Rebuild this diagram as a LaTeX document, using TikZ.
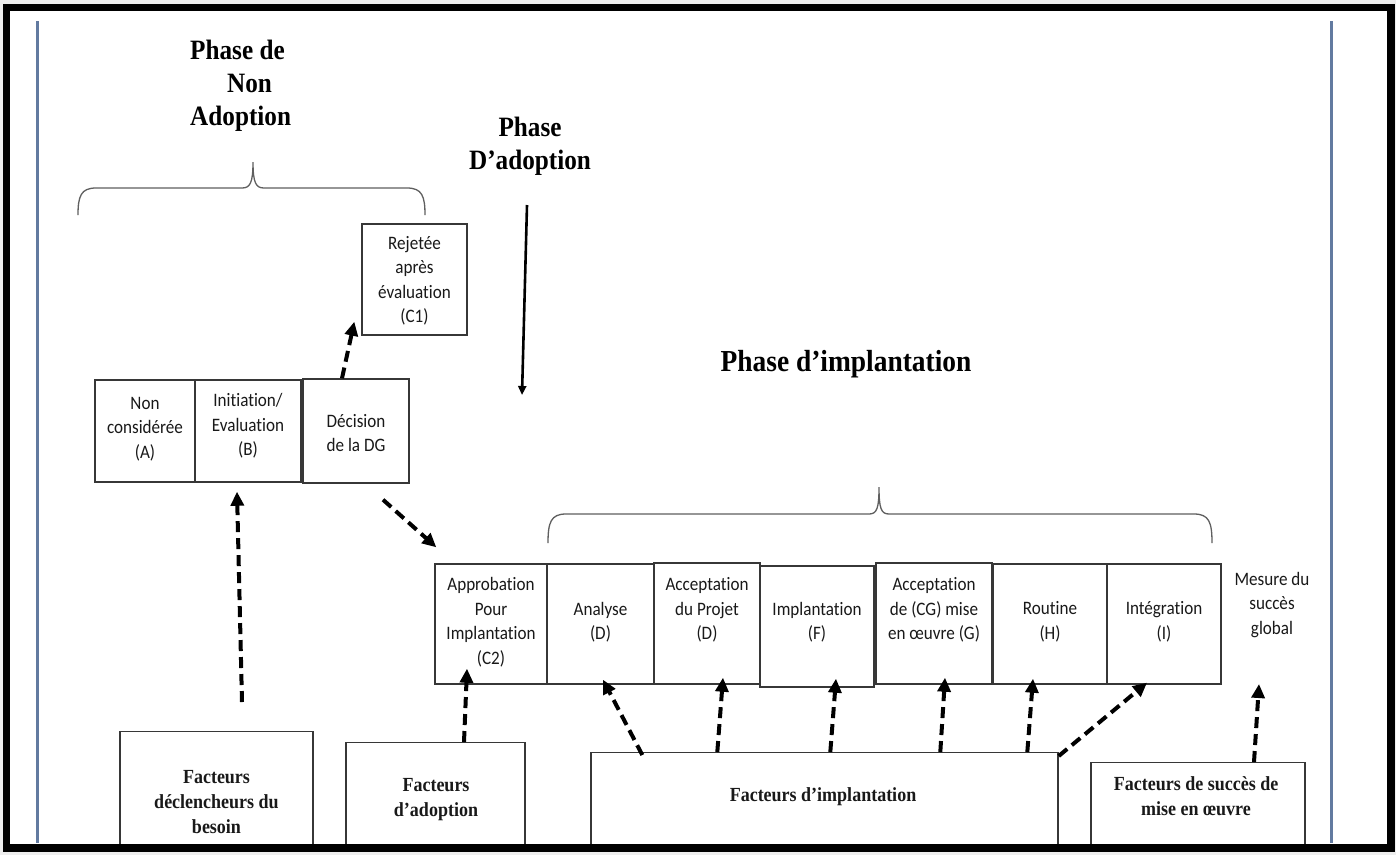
\documentclass[tikz,border=0pt]{standalone}
\usepackage{fontspec}
\setmainfont{Liberation Serif}[FakeStretch=0.9]
\newfontfamily\calfont{Carlito}[FakeStretch=0.9, Ligatures={NoCommon}]
\usetikzlibrary{arrows.meta}
\definecolor{bggray}{RGB}{238,238,238}
\definecolor{bluegray}{RGB}{98,122,160}
\definecolor{boxgray}{RGB}{55,55,55}
\definecolor{bracegray}{RGB}{95,95,95}
\definecolor{txtcol}{RGB}{25,25,25}
\tikzset{
  box/.style={draw=boxgray, line width=1.4pt, rectangle, inner sep=0pt},
  txt/.style={font=\calfont\fontsize{19}{24.5}\selectfont, align=center, inner sep=0pt, text=txtcol},
  btxt/.style={font=\bfseries\fontsize{20}{25}\selectfont, align=center, inner sep=0pt, text=txtcol},
  ttl/.style={font=\bfseries\fontsize{28}{33}\selectfont, inner sep=0pt, text=black},
  dar/.style={line width=4pt, dash pattern=on 11pt off 6pt, -{Triangle[length=14pt,width=13pt]}},
  sar/.style={line width=2.6pt, -{Triangle[length=9pt,width=8pt]}},
  bracepath/.style={draw=bracegray, line width=1.3pt}
}
\begin{document}
\begin{tikzpicture}[x=1pt,y=-1pt]
\useasboundingbox (0,0) rectangle (1396,855);
% frame
\fill[bggray] (0,0) rectangle (1396,855);
\fill[black] (3,4) rectangle (1395,852);
\fill[white] (10,11) rectangle (1387,844);
\draw[bluegray, line width=3pt] (37,21) -- (37,843);
\draw[bluegray, line width=3pt] (1331,21) -- (1331,843);

% titles
\node[ttl, anchor=west, align=left] (tnon) at (190,86) {Phase de\\\hspace*{37pt}Non\\Adoption};
\node[ttl, align=center] (tadop) at (530,146) {Phase\\D’adoption};
\node[ttl, font=\bfseries\fontsize{30.5}{34}\selectfont] (timp) at (846,364) {Phase d’implantation};

% braces
\draw[bracepath] (78,215) .. controls (78,196) and (81,188) .. (96,188) -- (242,188)
  .. controls (250,188) and (253,183) .. (253,162)
  .. controls (253,183) and (256,188) .. (264,188) -- (407,188)
  .. controls (422,188) and (425,196) .. (425,215);
\draw[bracepath] (548,543) .. controls (548,522) and (551,514) .. (566,514) -- (869,514)
  .. controls (877,514) and (879,508) .. (879,487)
  .. controls (879,508) and (881,514) .. (889,514) -- (1194,514)
  .. controls (1209,514) and (1212,522) .. (1212,543);

% top-left boxes
\node[box, minimum width=100pt, minimum height=102pt] (A) at (145,431) {};
\node[box, minimum width=106pt, minimum height=102pt] (B) at (248,431) {};
\node[box, minimum width=106pt, minimum height=104pt] (dec) at (356,431) {};
\node[box, minimum width=105pt, minimum height=111pt] (rej) at (414.5,279.5) {};
\node[txt] (tA) at (145,429) {Non\\considérée\\(A)};
\node[txt] (tB) at (248,426) {Initiation/\\Evaluation\\(B)};
\node[txt] (tdec) at (356,433) {Décision\\de la DG};
\node[txt] (trej) at (414.5,281) {Rejetée\\après\\évaluation\\(C1)};

% implementation row
\node[box, minimum width=112pt, minimum height=120pt] (c2) at (491,624) {};
\node[box, minimum width=107pt, minimum height=120pt] (an) at (600.5,624) {};
\node[box, minimum width=106pt, minimum height=121pt] (ap) at (707,623.5) {};
\node[box, minimum width=114pt, minimum height=121pt] (impl) at (817,626.5) {};
\node[box, minimum width=116pt, minimum height=121pt] (cg) at (934,623.5) {};
\node[box, minimum width=114pt, minimum height=120pt] (rou) at (1050,624) {};
\node[box, minimum width=114pt, minimum height=120pt] (integ) at (1164,624) {};
\node[txt] (tc2) at (491,622) {Approbation\\Pour\\Implantation\\(C2)};
\node[txt] (tan) at (600.5,622) {Analyse\\(D)};
\node[txt] (tap) at (707,610) {Acceptation\\du Projet\\(D)};
\node[txt] (timpl) at (817,622) {Implantation\\(F)};
\node[txt] (tcg) at (934,610) {Acceptation\\de (CG) mise\\en œuvre (G)};
\node[txt] (trou) at (1050,622) {Routine\\(H)};
\node[txt] (tint) at (1164,622) {Intégration\\(I)};
\node[txt] (tmes) at (1272,605) {Mesure du\\succès\\global};
\coordinate (mesTip) at (1259,684);

% bottom boxes (clipped at the bottom edge)
\begin{scope}
\clip (0,0) rectangle (1396,843);
\node[box, anchor=north, minimum width=193pt, minimum height=160pt] (fdb) at (216.5,731) {};
\node[box, anchor=north, minimum width=179pt, minimum height=160pt] (fad) at (435.5,742) {};
\node[box, anchor=north, minimum width=467pt, minimum height=160pt] (fim) at (824.5,752) {};
\node[box, anchor=north, minimum width=214pt, minimum height=160pt] (fsu) at (1198,762) {};
\end{scope}
\node[btxt] (tfdb) at (216.5,802) {Facteurs\\déclencheurs du\\besoin};
\node[btxt] (tfad) at (436,800) {Facteurs\\d’adoption};
\node[btxt] (tfim) at (823,797) {Facteurs d’implantation};
\node[btxt] (tfsu) at (1196,796) {Facteurs de succès de\\mise en œuvre};

% solid arrow (phase d'adoption)
\coordinate (sA) at (527,205);
\coordinate (sB) at (522,395);
\draw[sar] (sA) -- (sB);

% dashed arrows
\draw[dar] ([xshift=-14pt]dec.north) -- ([xshift=-7pt,yshift=14pt]rej.south west);
\draw[dar] ([xshift=27pt,yshift=-16pt]dec.south) -- ([xshift=2pt,yshift=16pt]c2.north west);
\draw[dar] ([xshift=25.5pt,yshift=29pt]fdb.north) -- ([xshift=-11pt,yshift=-9pt]B.south);
\draw[dar] ([xshift=28.5pt]fad.north) -- ([xshift=-24pt,yshift=16pt]c2.south);
\draw[dar] ([xshift=52pt,yshift=-3pt]fim.north west) -- ([xshift=2.5pt,yshift=5pt]an.south);
\draw[dar] ([xshift=127pt]fim.north west) -- ([xshift=16pt,yshift=7pt]ap.south);
\draw[dar] ([xshift=240pt]fim.north west) -- ([xshift=19pt,yshift=9pt]impl.south);
\draw[dar] ([xshift=350pt]fim.north west) -- ([xshift=11pt,yshift=7pt]cg.south);
\draw[dar] ([xshift=437pt]fim.north west) -- ([xshift=-17pt,yshift=6pt]rou.south);
\draw[dar] ([yshift=-4pt]fim.north east) -- ([xshift=-17pt,yshift=2pt]integ.south);
\draw[dar] ([xshift=56pt]fsu.north) -- (mesTip);
\end{tikzpicture}
\end{document}
